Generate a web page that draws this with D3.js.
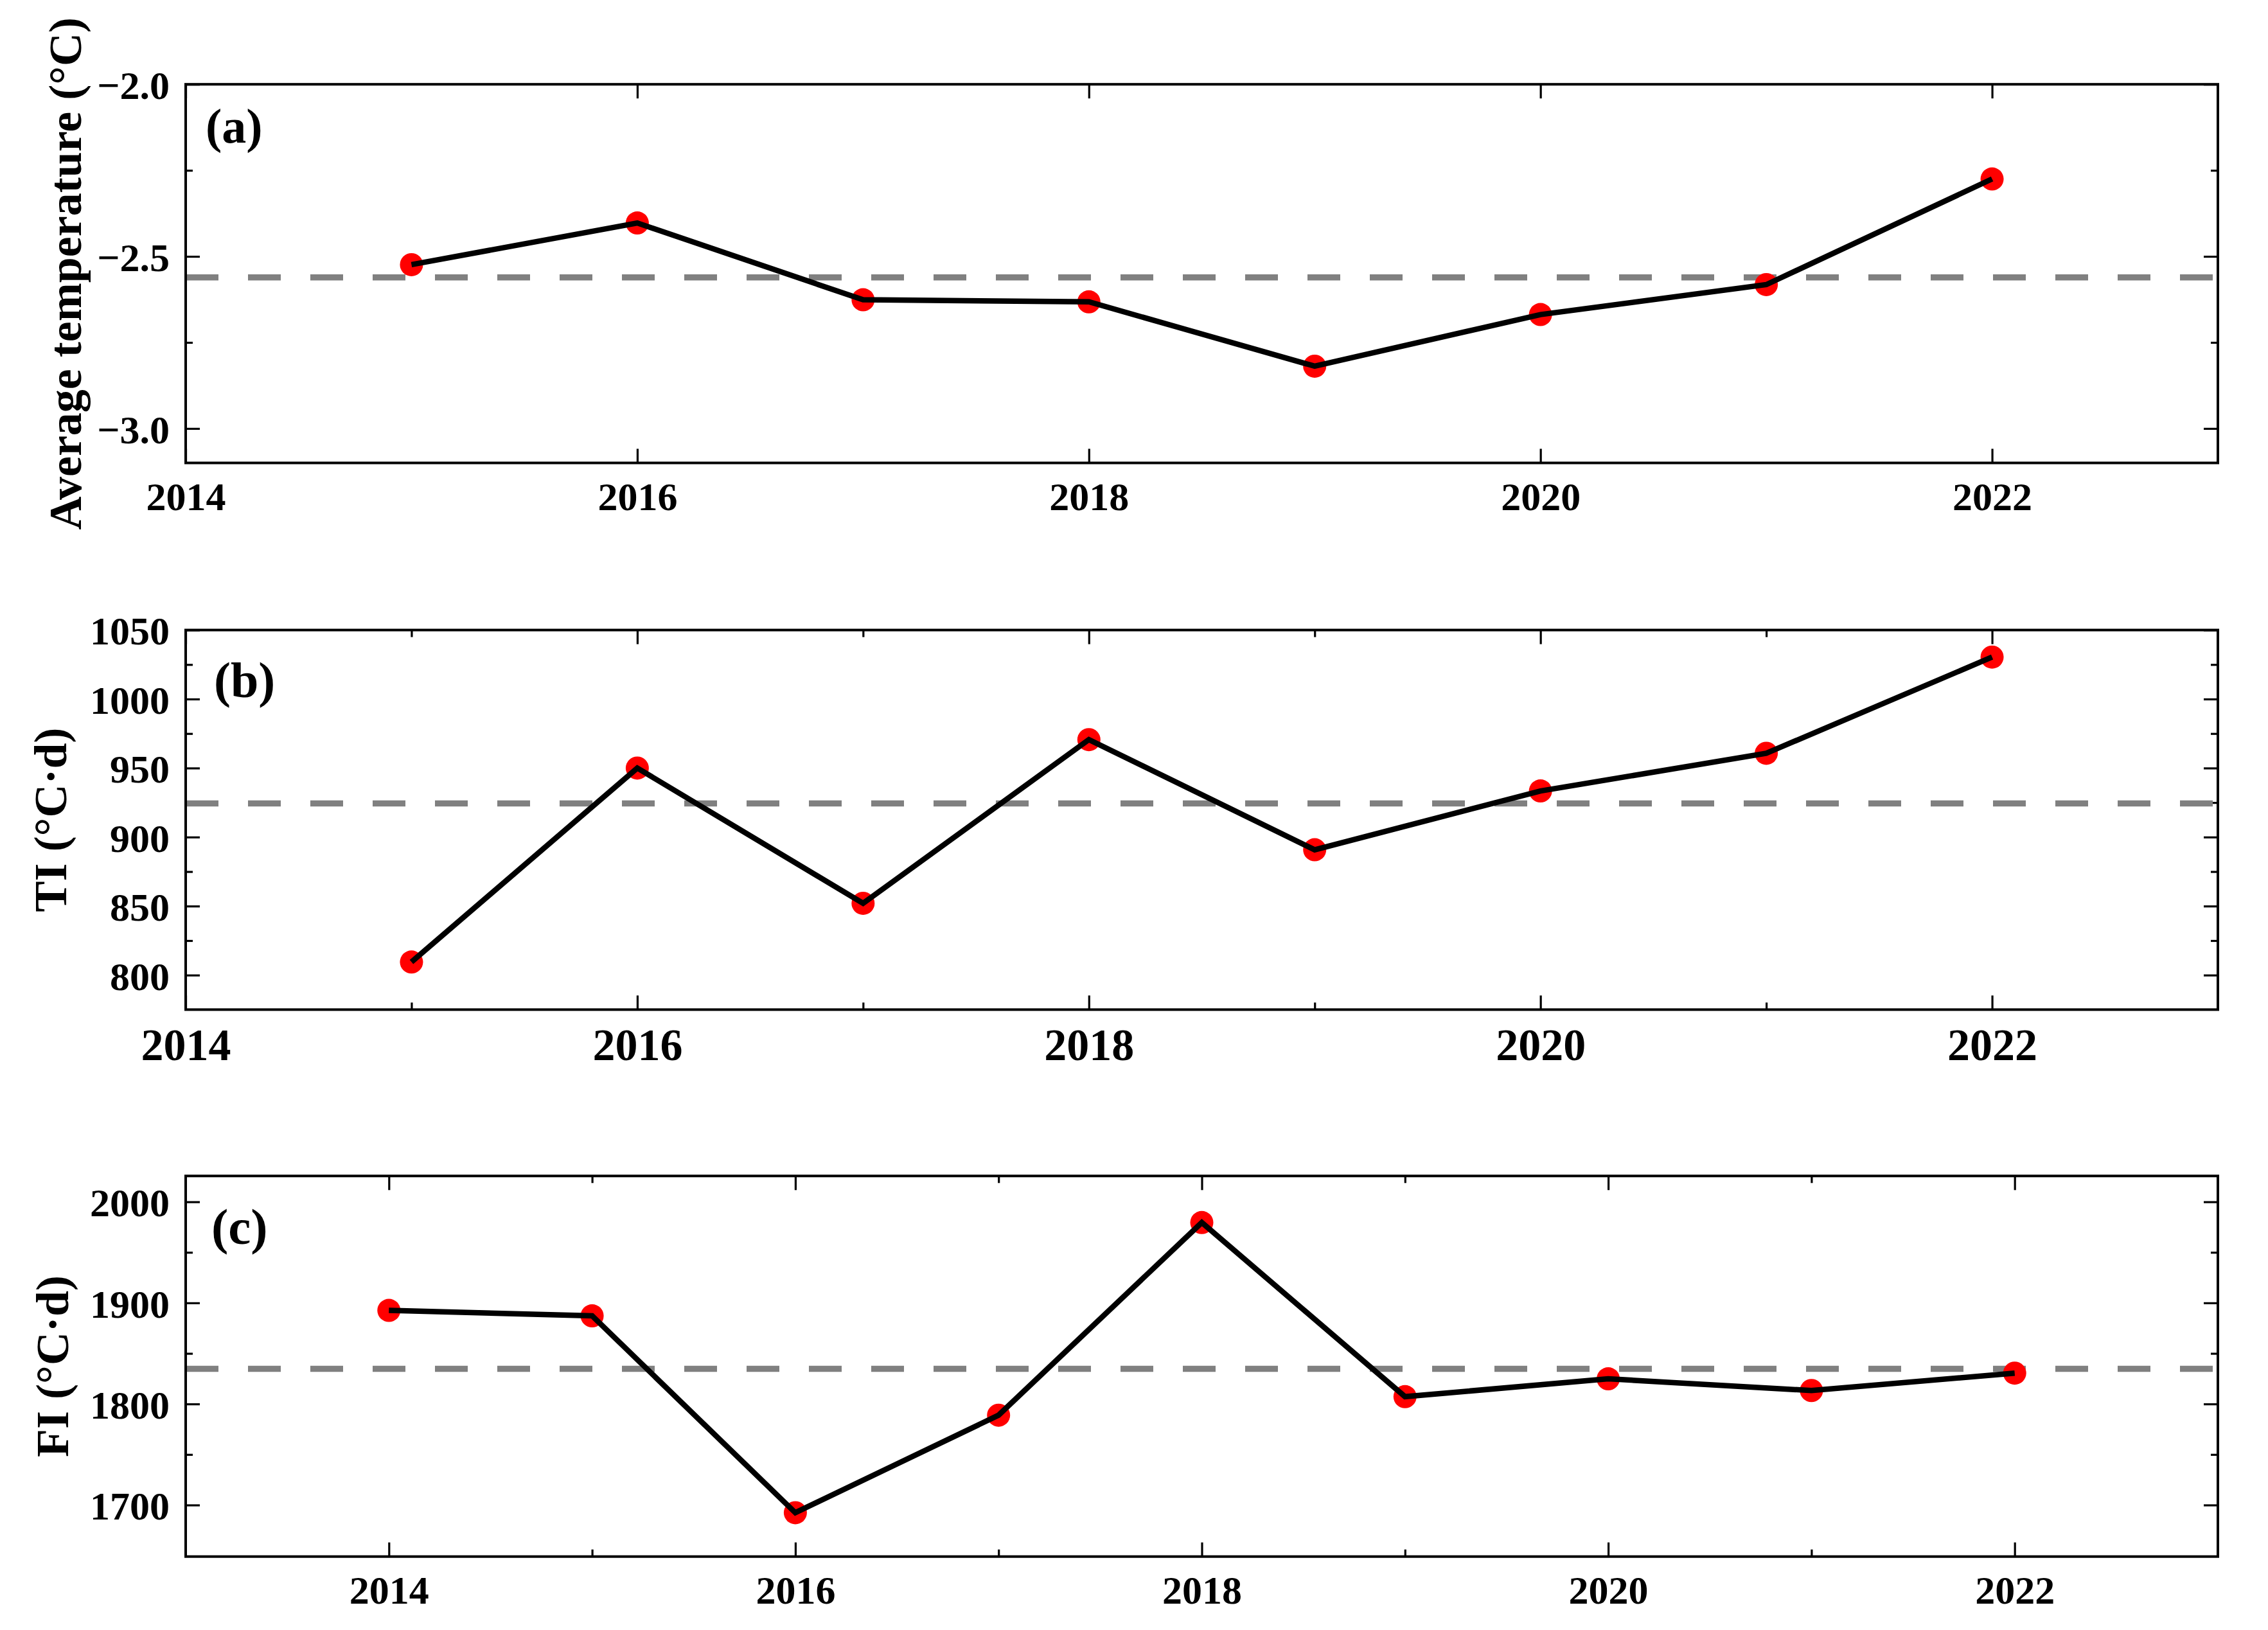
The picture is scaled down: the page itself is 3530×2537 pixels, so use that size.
<!DOCTYPE html>
<html>
<head>
<meta charset="utf-8">
<script src="https://cdn.jsdelivr.net/npm/d3@7"></script>
<style>
  html, body { margin: 0; padding: 0; background: #fff; }
  svg { display: block; }
  text { font-family: "Liberation Serif", "Times New Roman", serif; font-weight: bold; fill: #000; }
</style>
</head>
<body>
<script>
// ---------- data ----------
const yearsA = [2015, 2016, 2017, 2018, 2019, 2020, 2021, 2022];
const avgTemp = [-2.524, -2.403, -2.626, -2.632, -2.819, -2.669, -2.582, -2.275];
const avgTempMean = -2.561;

const yearsB = [2015, 2016, 2017, 2018, 2019, 2020, 2021, 2022];
const tiValues = [809.5, 950.0, 852.0, 970.6, 890.8, 933.4, 960.7, 1030.4];
const tiMean = 924.4;

const yearsC = [2014, 2015, 2016, 2017, 2018, 2019, 2020, 2021, 2022];
const fiValues = [1892.6, 1887.2, 1692.4, 1788.9, 1979.5, 1807.2, 1824.9, 1813.3, 1830.5];
const fiMean = 1834.7;

const xTickLabels = [2014, 2016, 2018, 2020, 2022];
const xMinorA = [];
const xMinorB = [2015, 2017, 2019, 2021];
const xMinorC = [2015, 2017, 2019, 2021];
const yTicksA = [-3.0, -2.5, -2.0];
const yMinorA = [-2.75, -2.25];
const yTicksB = [800, 850, 900, 950, 1000, 1050];
const yMinorB = [825, 875, 925, 975, 1025];
const yTicksC = [1700, 1800, 1900, 2000];
const yMinorC = [1750, 1850, 1950];

const titles = ["Average temperature (°C)", "TI (°C·d)", "FI (°C·d)"];
const panelTags = ["(a)", "(b)", "(c)"];

// ---------- layout ----------
const W = 3530, H = 2537;
const L = 289, R = 3452;

const panels = [
  { years: yearsA, values: avgTemp, mean: avgTempMean, xDom: [2014, 2023], yDom: [-3.1, -2.0],
    top: 131.2, bottom: 720.5, yTicks: yTicksA, yMinor: yMinorA, xMinor: xMinorA, yFmt: d3.format(".1f"),
    title: titles[0], tag: panelTags[0], titleX: 126, xLabFs: 62, xLabDy: 73.5,
    tagX: 320, tagY: 222, tagFs: 76 },
  { years: yearsB, values: tiValues, mean: tiMean, xDom: [2014, 2023], yDom: [775, 1050],
    top: 980.6, bottom: 1571.4, yTicks: yTicksB, yMinor: yMinorB, xMinor: xMinorB, yFmt: d3.format("d"),
    title: titles[1], tag: panelTags[1], titleX: 103, xLabFs: 70, xLabDy: 78.5,
    tagX: 333, tagY: 1085, tagFs: 78 },
  { years: yearsC, values: fiValues, mean: fiMean, xDom: [2013, 2023], yDom: [1649, 2025.6],
    top: 1830.3, bottom: 2422.7, yTicks: yTicksC, yMinor: yMinorC, xMinor: xMinorC, yFmt: d3.format("d"),
    title: titles[2], tag: panelTags[2], titleX: 106, xLabFs: 62, xLabDy: 73,
    tagX: 329, tagY: 1936, tagFs: 79 }
];

const svg = d3.select("body").append("svg")
  .attr("width", W).attr("height", H)
  .attr("viewBox", `0 0 ${W} ${H}`);
svg.append("rect").attr("width", W).attr("height", H).attr("fill", "#fff");

const MAJ = 22, MIN = 11;

panels.forEach(p => {
  const x = d3.scaleLinear().domain(p.xDom).range([L, R]);
  const y = d3.scaleLinear().domain(p.yDom).range([p.bottom, p.top]);
  const g = svg.append("g");

  function styleAxis(sel) {
    sel.select(".domain").remove();
    sel.selectAll(".tick line").attr("stroke", "#000").attr("stroke-width", 3.2);
  }

  // bottom axis (labels)
  const xb = g.append("g").attr("transform", `translate(0,${p.bottom})`)
    .call(d3.axisBottom(x).tickValues(xTickLabels).tickSize(-MAJ).tickFormat(d3.format("d")));
  styleAxis(xb);
  xb.selectAll("text").attr("dy", null).attr("y", p.xLabDy)
    .style("font-size", p.xLabFs + "px");
  if (p.xMinor.length) {
    const xbm = g.append("g").attr("transform", `translate(0,${p.bottom})`)
      .call(d3.axisBottom(x).tickValues(p.xMinor).tickSize(-MIN).tickFormat(""));
    styleAxis(xbm);
  }
  // top axis
  const xt = g.append("g").attr("transform", `translate(0,${p.top})`)
    .call(d3.axisTop(x).tickValues(xTickLabels).tickSize(-MAJ).tickFormat(""));
  styleAxis(xt);
  if (p.xMinor.length) {
    const xtm = g.append("g").attr("transform", `translate(0,${p.top})`)
      .call(d3.axisTop(x).tickValues(p.xMinor).tickSize(-MIN).tickFormat(""));
    styleAxis(xtm);
  }

  // left axis
  const yl = g.append("g").attr("transform", `translate(${L},0)`)
    .call(d3.axisLeft(y).tickValues(p.yTicks).tickSize(-MAJ).tickFormat(p.yFmt));
  styleAxis(yl);
  yl.selectAll("text").attr("x", -25).attr("dy", "0.36em")
    .attr("text-anchor", "end").style("font-size", "62px");
  const ylm = g.append("g").attr("transform", `translate(${L},0)`)
    .call(d3.axisLeft(y).tickValues(p.yMinor).tickSize(-MIN).tickFormat(""));
  styleAxis(ylm);
  // right axis
  const yr = g.append("g").attr("transform", `translate(${R},0)`)
    .call(d3.axisRight(y).tickValues(p.yTicks).tickSize(-MAJ).tickFormat(""));
  styleAxis(yr);
  const yrm = g.append("g").attr("transform", `translate(${R},0)`)
    .call(d3.axisRight(y).tickValues(p.yMinor).tickSize(-MIN).tickFormat(""));
  styleAxis(yrm);

  // mean dashed line
  g.append("line")
    .attr("x1", L).attr("x2", R)
    .attr("y1", y(p.mean)).attr("y2", y(p.mean))
    .attr("stroke", "#808080").attr("stroke-width", 9.5)
    .attr("stroke-dasharray", "51,46");

  const pts = p.years.map((yr_, i) => [yr_, p.values[i]]);

  // markers
  g.selectAll("circle.pt").data(pts).enter().append("circle")
    .attr("class", "pt")
    .attr("cx", d => x(d[0])).attr("cy", d => y(d[1]))
    .attr("r", 18).attr("fill", "#ff0000");

  // line
  g.append("path").datum(pts)
    .attr("d", d3.line().x(d => x(d[0])).y(d => y(d[1])))
    .attr("fill", "none").attr("stroke", "#000").attr("stroke-width", 8.5)
    .attr("stroke-linejoin", "miter");

  // frame
  g.append("rect")
    .attr("x", L).attr("y", p.top)
    .attr("width", R - L).attr("height", p.bottom - p.top)
    .attr("fill", "none").attr("stroke", "#000").attr("stroke-width", 4);

  // panel tag
  g.append("text").attr("x", p.tagX).attr("y", p.tagY)
    .style("font-size", p.tagFs + "px").text(p.tag);

  // y title
  const cy = (p.top + p.bottom) / 2;
  g.append("text")
    .attr("transform", `translate(${p.titleX},${cy}) rotate(-90)`)
    .attr("text-anchor", "middle")
    .style("font-size", "72px")
    .text(p.title);
});
</script>
</body>
</html>
